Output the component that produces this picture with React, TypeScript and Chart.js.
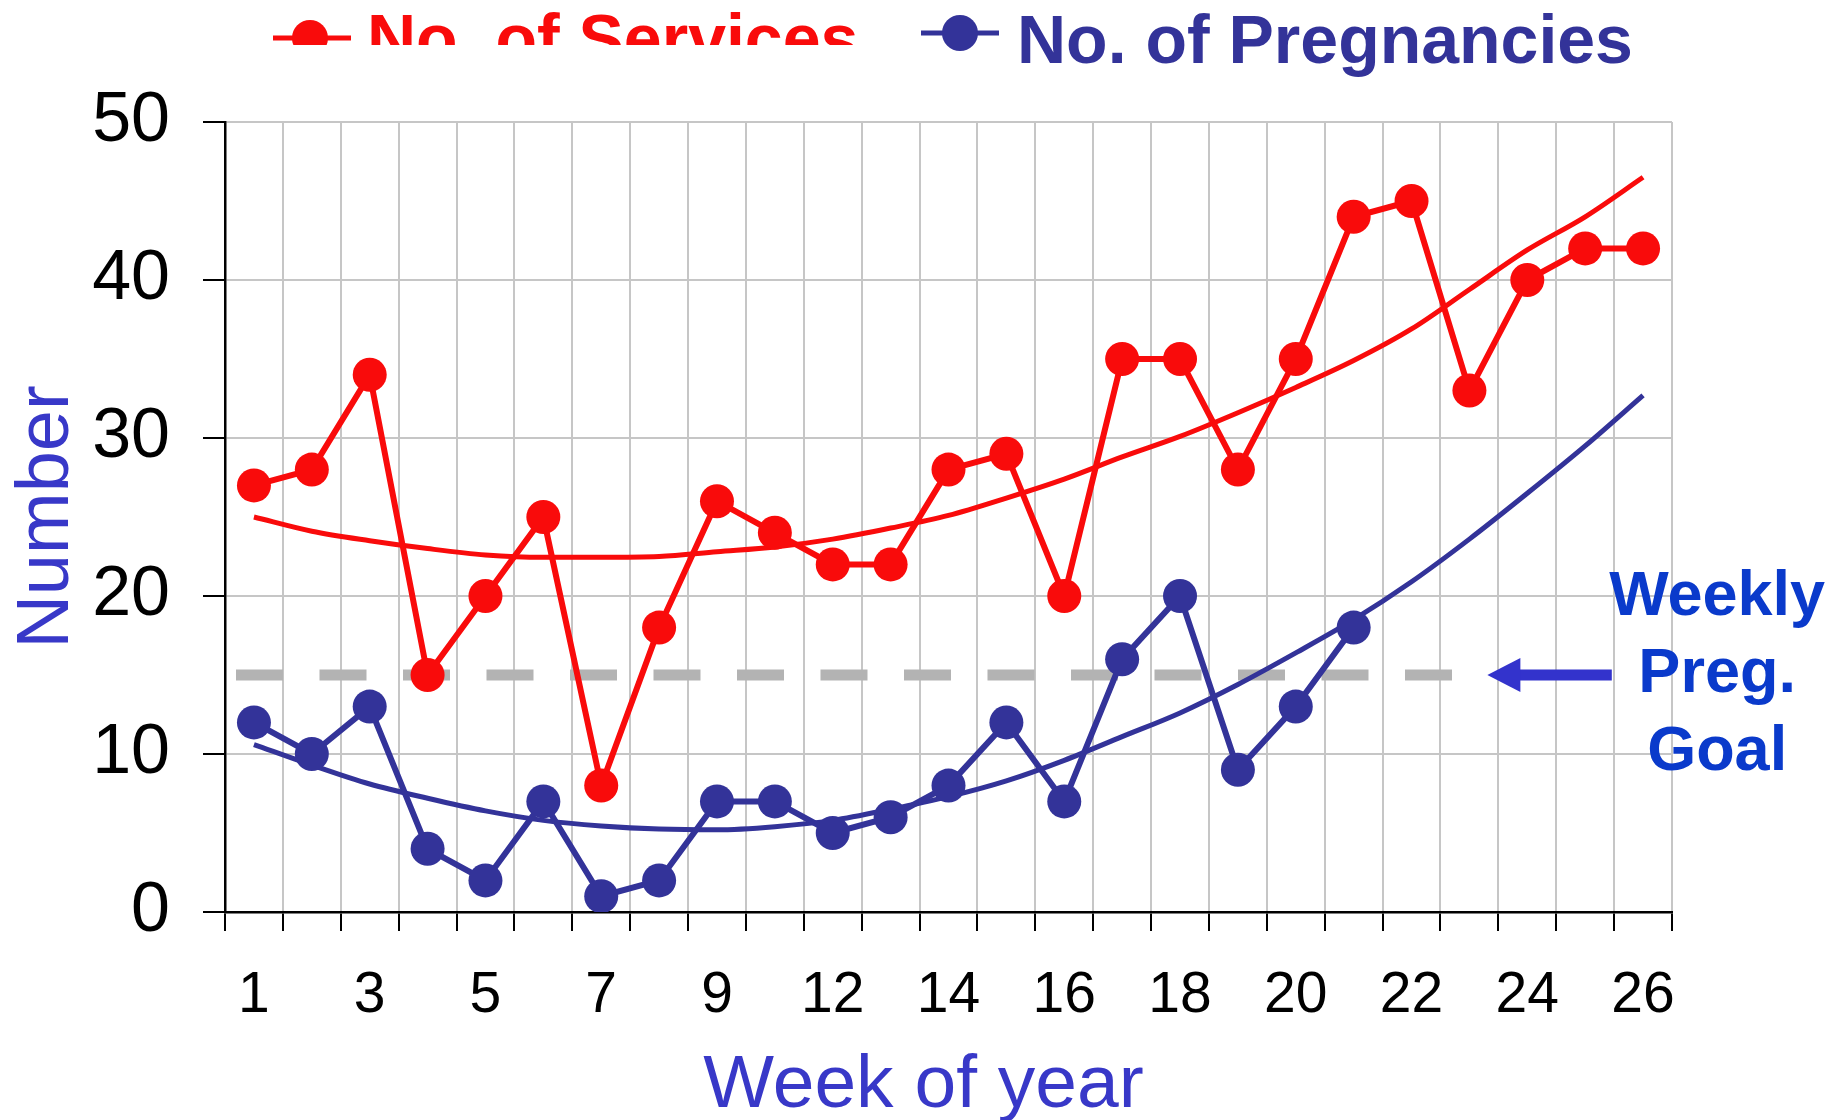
import React, { useEffect, useRef } from 'react';
import { Chart, registerables } from 'chart.js';

Chart.register(...registerables);

// ---------- data ----------
const WEEKS = ['1', '2', '3', '4', '5', '6', '7', '8', '9', '11', '12', '13', '14', '15', '16', '17', '18', '19', '20', '21', '22', '23', '24', '25', '26'];
const SERVICES = [27, 28, 34, 15, 20, 25, 8, 18, 26, 24, 22, 22, 28, 29, 20, 35, 35, 28, 35, 44, 45, 33, 40, 42, 42];
const PREGNANCIES = [12, 10, 13, 4, 2, 7, 1, 2, 7, 7, 5, 6, 8, 12, 7, 16, 20, 9, 13, 18];
const SERVICES_TREND = [25.0, 24.1, 23.5, 23.0, 22.6, 22.45, 22.45, 22.5, 22.8, 23.1, 23.6, 24.3, 25.1, 26.2, 27.4, 28.8, 30.1, 31.6, 33.2, 34.9, 36.9, 39.4, 41.9, 44.0, 46.5];
const PREGNANCIES_TREND = [10.6, 9.3, 8.1, 7.2, 6.4, 5.8, 5.45, 5.25, 5.2, 5.4, 5.8, 6.5, 7.3, 8.3, 9.6, 11.1, 12.6, 14.4, 16.4, 18.5, 20.9, 23.6, 26.5, 29.5, 32.7];
const SERIES_NAMES = ['No. of Services', 'No. of Pregnancies'];
const Y_MIN = 0;
const Y_MAX = 50;
const Y_STEP = 10;
const GOAL = 15;
const GOAL_LABEL = ['Weekly', 'Preg.', 'Goal'];
const X_TITLE = 'Week of year';
const Y_TITLE = 'Number';

// ---------- styles ----------
const FAMILY = "'Liberation Sans', Arial, Helvetica, sans-serif";
const RED = '#f90b0b';
const NAVY = '#333399';
const AXIS_TITLE_COLOR = '#3838c8';
const GOAL_TEXT_COLOR = '#0a3acb';
const ARROW_COLOR = '#3333cc';
const GRID = '#c6c6c6';

const W = 1844;
const H = 1120;

const overlayPlugin = {
  id: 'overlay',
  beforeDatasetsDraw(chart: any) {
    const { ctx, scales } = chart;
    const x = scales.x;
    const y = scales.y;
    const gy = y.getPixelForValue(GOAL);
    ctx.save();
    ctx.strokeStyle = '#b3b3b3';
    ctx.lineWidth = 11;
    ctx.setLineDash([47, 36.5]);
    ctx.beginPath();
    ctx.moveTo(x.getPixelForValue(-0.31), gy);
    ctx.lineTo(x.getPixelForValue(20.82), gy);
    ctx.stroke();
    ctx.restore();
  },
  afterDraw(chart: any) {
    const { ctx, scales, chartArea } = chart;
    const x = scales.x;
    const y = scales.y;
    const gy = y.getPixelForValue(GOAL);

    // arrow pointing to the goal line
    ctx.save();
    const tip = x.getPixelForValue(21.31);
    const tail = x.getPixelForValue(23.46);
    ctx.strokeStyle = ARROW_COLOR;
    ctx.fillStyle = ARROW_COLOR;
    ctx.lineWidth = 11;
    ctx.beginPath();
    ctx.moveTo(tip + 25, gy);
    ctx.lineTo(tail, gy);
    ctx.stroke();
    ctx.beginPath();
    ctx.moveTo(tip, gy);
    ctx.lineTo(tip + 33, gy - 17);
    ctx.lineTo(tip + 33, gy + 17);
    ctx.closePath();
    ctx.fill();

    // goal text
    ctx.font = `bold 63px ${FAMILY}`;
    ctx.fillStyle = GOAL_TEXT_COLOR;
    ctx.textAlign = 'center';
    ctx.textBaseline = 'alphabetic';
    const cx = x.getPixelForValue(25.28);
    const offs = [-60, 17, 95];
    GOAL_LABEL.forEach((t, i) => ctx.fillText(t, cx, gy + offs[i]));

    // axis titles
    ctx.fillStyle = AXIS_TITLE_COLOR;
    ctx.font = `75px ${FAMILY}`;
    ctx.fillText(X_TITLE, (chartArea.left + chartArea.right) / 2 - 25, 1107);
    ctx.save();
    ctx.translate(68, (chartArea.top + chartArea.bottom) / 2);
    ctx.rotate(-Math.PI / 2);
    ctx.font = `74px ${FAMILY}`;
    ctx.fillText(Y_TITLE, 0, 0);
    ctx.restore();

    // legend
    const items = [
      { name: SERIES_NAMES[0], color: RED, l0: 273, l1: 351, cx: 310, cy: 38, tx: 367, base: 62, clip: 45 },
      { name: SERIES_NAMES[1], color: NAVY, l0: 921, l1: 999, cx: 960, cy: 33, tx: 1017, base: 63, clip: 0 },
    ];
    ctx.font = `bold 68px ${FAMILY}`;
    ctx.textAlign = 'left';
    items.forEach((it) => {
      ctx.save();
      if (it.clip) {
        ctx.beginPath();
        ctx.rect(0, 0, W, it.clip);
        ctx.clip();
      }
      ctx.strokeStyle = it.color;
      ctx.fillStyle = it.color;
      ctx.lineWidth = 5;
      ctx.beginPath();
      ctx.moveTo(it.l0, it.cy);
      ctx.lineTo(it.l1, it.cy);
      ctx.stroke();
      ctx.beginPath();
      ctx.arc(it.cx, it.cy, 18, 0, Math.PI * 2);
      ctx.fill();
      ctx.fillText(it.name, it.tx, it.base);
      ctx.restore();
    });
    ctx.restore();
  },
};

export default function App() {
  const ref = useRef<HTMLCanvasElement | null>(null);

  useEffect(() => {
    if (!ref.current) return;
    const chart = new Chart(ref.current, {
      type: 'line',
      data: {
        labels: WEEKS,
        datasets: [
          {
            label: SERIES_NAMES[0],
            data: SERVICES,
            borderColor: RED,
            backgroundColor: RED,
            borderWidth: 6,
            pointRadius: 17,
            pointHoverRadius: 17,
            pointBorderWidth: 0,
            pointBackgroundColor: RED,
            order: 1,
          },
          {
            label: SERIES_NAMES[1],
            data: PREGNANCIES,
            borderColor: NAVY,
            backgroundColor: NAVY,
            borderWidth: 6,
            pointRadius: 17,
            pointHoverRadius: 17,
            pointBorderWidth: 0,
            pointBackgroundColor: NAVY,
            order: 1,
          },
          {
            label: 'Services trend',
            data: SERVICES_TREND,
            borderColor: RED,
            borderWidth: 5,
            pointRadius: 0,
            cubicInterpolationMode: 'monotone',
            order: 2,
          },
          {
            label: 'Pregnancies trend',
            data: PREGNANCIES_TREND,
            borderColor: NAVY,
            borderWidth: 5,
            pointRadius: 0,
            cubicInterpolationMode: 'monotone',
            order: 2,
          },
        ],
      },
      options: {
        responsive: false,
        animation: false,
        devicePixelRatio: 1,
        layout: { padding: { top: 122, right: 172, left: 0, bottom: 0 } },
        plugins: {
          legend: { display: false },
          tooltip: { enabled: false },
          title: { display: false },
        },
        scales: {
          x: {
            type: 'category',
            offset: true,
            grid: { offset: true, color: GRID, lineWidth: 2, tickColor: '#000', tickLength: 19, tickWidth: 2 },
            border: { color: '#000', width: 2.5 },
            ticks: {
              autoSkip: false,
              maxRotation: 0,
              minRotation: 0,
              color: '#000',
              padding: 31,
              font: { size: 57, family: FAMILY },
              callback: (_v: any, i: number) => (i % 2 === 0 ? WEEKS[i] : ''),
            },
            afterFit: (s: any) => {
              s.height = 208;
            },
          },
          y: {
            min: Y_MIN,
            max: Y_MAX,
            ticks: { stepSize: Y_STEP, color: '#000', padding: 33, font: { size: 70, family: FAMILY } },
            grid: { color: GRID, lineWidth: 2, tickColor: '#000', tickLength: 22, tickWidth: 2 },
            border: { color: '#000', width: 2.5 },
            afterFit: (s: any) => {
              s.width = 225;
            },
          },
        },
      },
      plugins: [overlayPlugin],
    } as any);
    return () => chart.destroy();
  }, []);

  return (
    <div style={{ position: 'fixed', left: 0, top: 0, width: W, height: H, background: '#fff' }}>
      <canvas ref={ref} width={W} height={H} style={{ display: 'block', width: W, height: H }} />
    </div>
  );
}
